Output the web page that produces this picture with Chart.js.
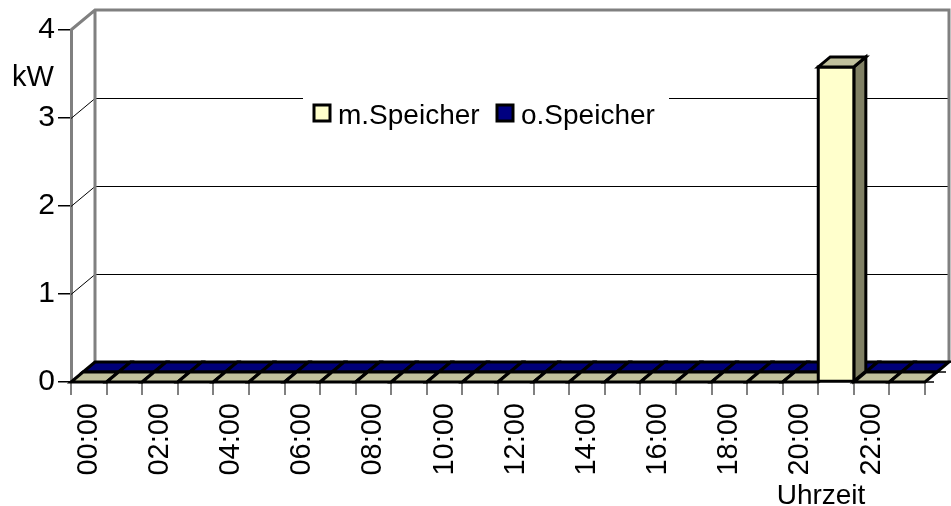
<!DOCTYPE html>
<html lang="de">
<head>
<meta charset="UTF-8">
<title>Leistung kW</title>
<script src="https://cdn.jsdelivr.net/npm/chart.js"></script>
<style>
    html, body { margin: 0; padding: 0; background: #fff; }
</style>
</head>
<body>
<canvas id="myChart" width="951" height="506"></canvas>
<script>
// Daten
const hours = ['00:00','01:00','02:00','03:00','04:00','05:00','06:00','07:00',
               '08:00','09:00','10:00','11:00','12:00','13:00','14:00','15:00',
               '16:00','17:00','18:00','19:00','20:00','21:00','22:00','23:00'];
const mSpeicher = [0,0,0,0,0,0,0,0,0,0,0,0,0,0,0,0,0,0,0,0,0,3.58,0,0];
const oSpeicher = [0,0,0,0,0,0,0,0,0,0,0,0,0,0,0,0,0,0,0,0,0,0,0,0];
const yTicks = [0, 1, 2, 3, 4];
const seriesNames = ['m.Speicher', 'o.Speicher'];

const FONT = "'Liberation Sans', Arial, sans-serif";
const DX = 24, DY = -20;   // Tiefe des 3D-Rahmens

// Farben je Reihe: Vorderseite, Oberseite, Seite
const faces = [
    { front: '#FFFFCC', top: '#C0C09C', side: '#808064' },
    { front: '#000080', top: '#000078', side: '#000050' }
];

function poly(ctx, pts, fill) {
    ctx.beginPath();
    ctx.moveTo(pts[0][0], pts[0][1]);
    for (let k = 1; k < pts.length; k++) ctx.lineTo(pts[k][0], pts[k][1]);
    ctx.closePath();
    ctx.fillStyle = fill;
    ctx.fill();
    ctx.stroke();
}

const chart3d = {
    id: 'chart3d',
    beforeDatasetsDraw(chart) {
        const ctx = chart.ctx, a = chart.chartArea, y = chart.scales.y;
        const top = y.getPixelForValue(4), bot = y.getPixelForValue(0);
        ctx.save();

        // Gitterlinien auf Seiten- und Rueckwand
        ctx.strokeStyle = '#000';
        ctx.lineWidth = 1;
        yTicks.forEach(v => {
            if (v === 0 || v === 4) return;
            const py = Math.round(y.getPixelForValue(v)) + 0.5;
            ctx.beginPath();
            ctx.moveTo(a.left, py);
            ctx.lineTo(a.left + DX, py + DY);
            ctx.lineTo(a.right + DX, py + DY);
            ctx.stroke();
        });

        // Rahmen der Waende
        ctx.strokeStyle = '#808080';
        ctx.lineWidth = 3;
        ctx.beginPath();
        ctx.moveTo(a.left, top);
        ctx.lineTo(a.left + DX, top + DY);
        ctx.lineTo(a.right + DX, top + DY);
        ctx.lineTo(a.right + DX, bot + DY);
        ctx.moveTo(a.left + DX, top + DY);
        ctx.lineTo(a.left + DX, bot + DY);
        ctx.stroke();

        // Tiefenachse rechts: kleine Striche
        ctx.strokeStyle = '#000';
        ctx.lineWidth = 1.5;
        [0, 0.5, 1].forEach(d => {
            const px = a.right + d * DX, py = bot + d * DY;
            ctx.beginPath();
            ctx.moveTo(px, py);
            ctx.lineTo(px + 9, py);
            ctx.stroke();
        });

        // Saeulen: hintere Reihe zuerst
        ctx.strokeStyle = '#000';
        ctx.lineWidth = 3;
        ctx.lineJoin = 'miter';
        for (let di = chart.data.datasets.length - 1; di >= 0; di--) {
            const meta = chart.getDatasetMeta(di);
            const c = faces[di];
            const ox0 = di * 0.5 * DX, oy0 = di * 0.5 * DY;
            const ox1 = ox0 + 0.5 * DX, oy1 = oy0 + 0.5 * DY;
            meta.data.forEach(el => {
                const p = el.getProps(['x', 'y', 'base', 'width'], true);
                const l = p.x - p.width / 2, r = p.x + p.width / 2;
                const t = p.y, b = p.base;
                if (b - t > 0.5) {
                    poly(ctx, [[r + ox0, t + oy0], [r + ox1, t + oy1], [r + ox1, b + oy1], [r + ox0, b + oy0]], c.side);
                    poly(ctx, [[l + ox0, t + oy0], [r + ox0, t + oy0], [r + ox0, b + oy0], [l + ox0, b + oy0]], c.front);
                }
                poly(ctx, [[l + ox0, t + oy0], [r + ox0, t + oy0], [r + ox1, t + oy1], [l + ox1, t + oy1]], c.top);
            });
        }
        ctx.restore();
        return false;
    },
    afterDraw(chart) {
        const ctx = chart.ctx;
        ctx.save();
        ctx.fillStyle = '#000';
        ctx.textBaseline = 'alphabetic';

        // Achsentitel
        ctx.font = '29px ' + FONT;
        ctx.textAlign = 'left';
        ctx.fillText('kW', 12, 86);
        ctx.font = '28px ' + FONT;
        ctx.textAlign = 'center';
        ctx.fillText('Uhrzeit', 821, 504);

        // Legende im Diagramm
        ctx.fillStyle = '#fff';
        ctx.fillRect(303, 90, 366, 50);
        ctx.textAlign = 'left';
        const items = [[314, 338], [497, 521]];
        chart.data.datasets.forEach((ds, i) => {
            ctx.fillStyle = ds.backgroundColor;
            ctx.strokeStyle = '#000';
            ctx.lineWidth = 3;
            ctx.fillRect(items[i][0], 105, 16, 16);
            ctx.strokeRect(items[i][0], 105, 16, 16);
            ctx.fillStyle = '#000';
            ctx.fillText(ds.label, items[i][1], 124);
        });
        ctx.restore();
    }
};

const myChart = new Chart(document.querySelector('#myChart'), {
    type: 'bar',
    data: {
        labels: hours,
        datasets: [{
            label: seriesNames[0],
            data: mSpeicher,
            backgroundColor: faces[0].front,
            barPercentage: 1,
            categoryPercentage: 1
        }, {
            label: seriesNames[1],
            data: oSpeicher,
            backgroundColor: faces[1].front,
            barPercentage: 1,
            categoryPercentage: 1
        }]
    },
    options: {
        responsive: false,
        animation: false,
        devicePixelRatio: 1,
        datasets: { bar: { grouped: false } },
        layout: { padding: { top: 30, right: 26, left: 0, bottom: 0 } },
        plugins: {
            legend: { display: false },
            tooltip: { enabled: false }
        },
        scales: {
            x: {
                grid: {
                    offset: true,
                    drawOnChartArea: false,
                    drawTicks: true,
                    tickLength: 13,
                    color: '#808080',
                    tickColor: '#808080',
                    lineWidth: 2
                },
                border: { display: false },
                ticks: {
                    autoSkip: false,
                    minRotation: 90,
                    maxRotation: 90,
                    padding: 8,
                    color: '#000',
                    font: { family: FONT, size: 29 },
                    callback: (v, i) => i % 2 === 0 ? hours[i] : ''
                },
                afterFit(s) { s.height = 124; }
            },
            y: {
                min: 0,
                max: 4,
                grid: {
                    drawOnChartArea: false,
                    tickLength: 13,
                    color: '#000',
                    tickColor: '#000',
                    lineWidth: 1.5
                },
                border: { color: '#808080', width: 3 },
                ticks: {
                    stepSize: 1,
                    padding: 3,
                    color: '#000',
                    font: { family: FONT, size: 30 }
                },
                afterFit(s) { s.width = 71; }
            }
        }
    },
    plugins: [chart3d]
});
</script>
</body>
</html>
